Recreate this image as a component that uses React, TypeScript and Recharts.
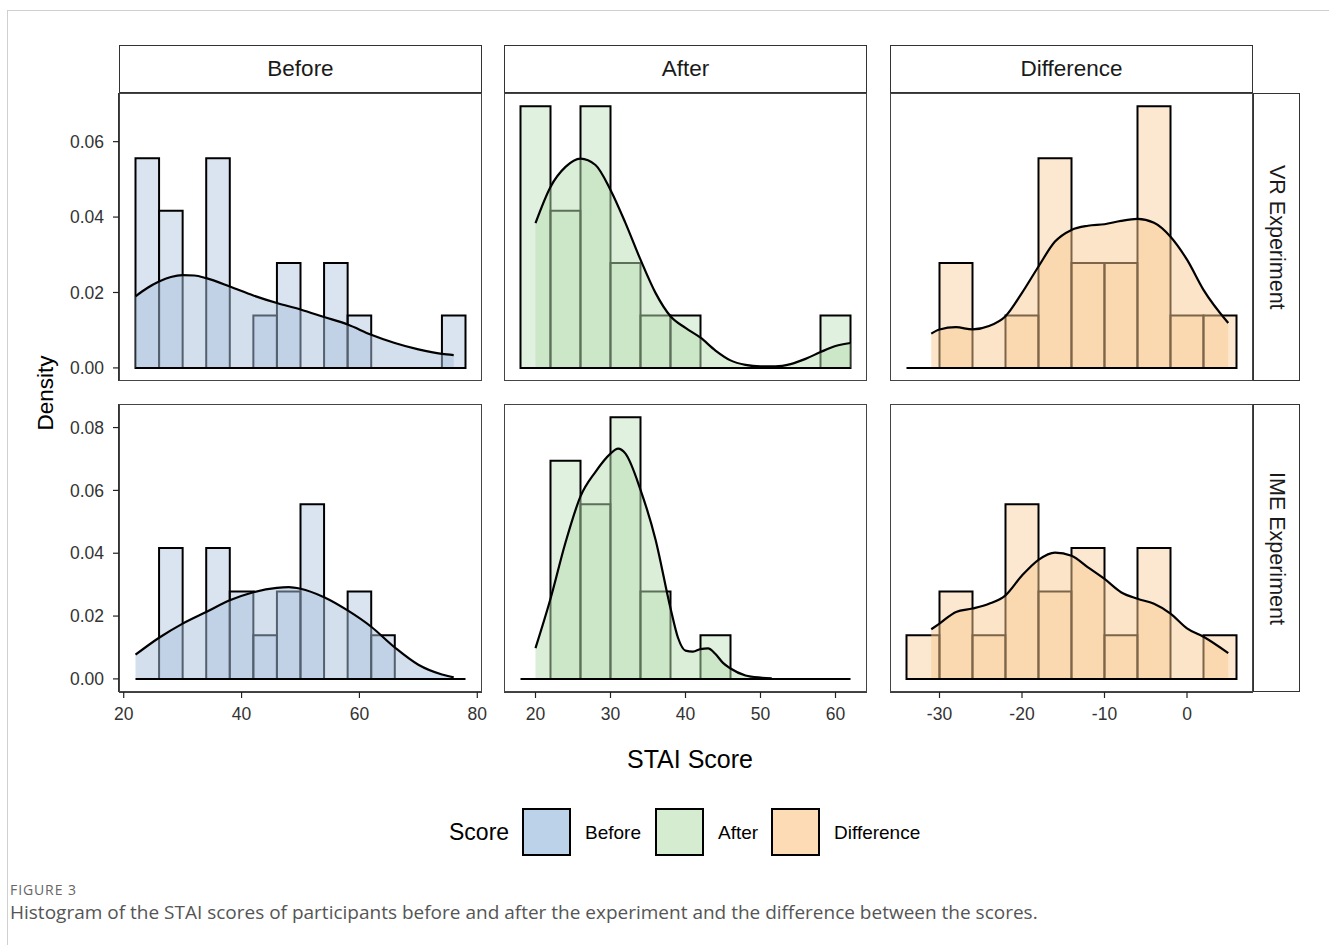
import React from 'react';
import { ComposedChart, Area, XAxis, YAxis, ReferenceArea, ReferenceLine } from 'recharts';

const FONT = '"Liberation Sans", Arial, Helvetica, sans-serif';

// ---------- data ----------
const scoreLabels = ['Before', 'After', 'Difference'];
const experimentLabels = ['VR Experiment', 'IME Experiment'];

// histogram bin starts (binwidth 4)
const beforeBinStarts = [22, 26, 30, 34, 38, 42, 46, 50, 54, 58, 62, 66, 70, 74];
const afterBinStarts = [18, 22, 26, 30, 34, 38, 42, 46, 50, 54, 58];
const diffBinStarts = [-34, -30, -26, -22, -18, -14, -10, -6, -2, 2];

const vrBeforeHist = [0.0556, 0.0417, 0, 0.0556, 0, 0.0139, 0.0278, 0, 0.0278, 0.0139, 0, 0, 0, 0.0139];
const imeBeforeHist = [0, 0.0417, 0, 0.0417, 0.0278, 0.0139, 0.0278, 0.0556, 0, 0.0278, 0.0139, 0, 0, 0];
const vrAfterHist = [0.0694, 0.0417, 0.0694, 0.0278, 0.0139, 0.0139, 0, 0, 0, 0, 0.0139];
const imeAfterHist = [0, 0.0694, 0.0556, 0.0833, 0.0278, 0, 0.0139, 0, 0, 0, 0];
const vrDiffHist = [0, 0.0278, 0, 0.0139, 0.0556, 0.0278, 0.0278, 0.0694, 0.0139, 0.0139];
const imeDiffHist = [0.0139, 0.0278, 0.0139, 0.0556, 0.0278, 0.0417, 0.0139, 0.0417, 0, 0.0139];

// density curves
const vrBeforeDensX = [22, 24, 26, 28, 30, 32, 34, 38, 42, 46, 50, 54, 58, 62, 66, 70, 74, 76];
const vrBeforeDensY = [0.0190, 0.0212, 0.0229, 0.0241, 0.0246, 0.0245, 0.0238, 0.0216, 0.0192, 0.0172, 0.0155, 0.0135, 0.0115, 0.0088, 0.0066, 0.0049, 0.0037, 0.0034];
const imeBeforeDensX = [22, 26, 30, 34, 38, 42, 46, 48, 50, 54, 58, 62, 66, 70, 74, 76];
const imeBeforeDensY = [0.0077, 0.0131, 0.0176, 0.0213, 0.0250, 0.0276, 0.0290, 0.0292, 0.0287, 0.0260, 0.0218, 0.0166, 0.0100, 0.0045, 0.0014, 0.0005];
const vrAfterDensX = [20, 22, 24, 26, 28, 30, 32, 34, 36, 38, 40, 42, 44, 46, 48, 50, 52, 54, 56, 58, 60, 62];
const vrAfterDensY = [0.0384, 0.0480, 0.0533, 0.0555, 0.0538, 0.0472, 0.0384, 0.0287, 0.0199, 0.0137, 0.0106, 0.0080, 0.0046, 0.0020, 0.0008, 0.0004, 0.0004, 0.0010, 0.0024, 0.0042, 0.0058, 0.0066];
const imeAfterDensX = [20, 22, 24, 26, 28, 30, 31, 32, 34, 36, 38, 39, 40, 41, 42, 43, 44, 45, 46, 48, 50, 51.5];
const imeAfterDensY = [0.0098, 0.0255, 0.0434, 0.0581, 0.0659, 0.0717, 0.0733, 0.0717, 0.0602, 0.0444, 0.0225, 0.0131, 0.0090, 0.0087, 0.0095, 0.0097, 0.0079, 0.0051, 0.0033, 0.0011, 0.0004, 0.0002];
const vrDiffDensX = [-31, -30, -28, -26, -24, -22, -20, -18, -16, -14, -12, -10, -8, -6, -4, -2, 0, 2, 5];
const vrDiffDensY = [0.0091, 0.0102, 0.0108, 0.0102, 0.0111, 0.0137, 0.0199, 0.0269, 0.0335, 0.0366, 0.0377, 0.0381, 0.0390, 0.0395, 0.0385, 0.0348, 0.0287, 0.0207, 0.0119];
const imeDiffDensX = [-31, -30, -28, -26, -24, -22, -20, -18, -16, -14, -12, -10, -8, -6, -4, -2, 0, 2, 5];
const imeDiffDensY = [0.0158, 0.0176, 0.0213, 0.0224, 0.0239, 0.0266, 0.0329, 0.0379, 0.0402, 0.0392, 0.0355, 0.0318, 0.0276, 0.0255, 0.0239, 0.0208, 0.0161, 0.0134, 0.0082];

const beforeXTicks = [20, 40, 60, 80];
const afterXTicks = [20, 30, 40, 50, 60];
const diffXTicks = [-30, -20, -10, 0];
const vrYTicks = [0, 0.02, 0.04, 0.06];
const imeYTicks = [0, 0.02, 0.04, 0.06, 0.08];

// ---------- styles / layout ----------
const BLUE = '#a7bfdb';
const GREEN = '#b8deb2';
const ORANGE = '#f7c98f';
const KEY_COLORS = ['#bcd2e8', '#d5ecd1', '#fddcb5'];

const COL_LEFT = [119, 504, 890];
const COL_W = 363;
const ROW_TOP = [93, 404];
const ROW_H = 288;
const STRIP_TOP = 45;
const STRIP_H = 48;
const RSTRIP_W = 47;
const RIGHT_PAD = 24;

const X_DOMAINS: [number, number][] = [[19.2, 80.8], [15.8, 64.2], [-36, 8]];
const Y_DOMAINS: [number, number][] = [[-0.00347, 0.0729], [-0.00417, 0.0875]];

type PanelProps = {
  col: number;
  row: number;
  binStarts: number[];
  hist: number[];
  densX: number[];
  densY: number[];
  color: string;
  xTicks: number[];
  yTicks: number[];
};

function Panel({ col, row, binStarts, hist, densX, densY, color, xTicks, yTicks }: PanelProps) {
  const showY = col === 0;
  const showX = row === 1;
  const yW = showY ? 80 : 0;
  const xH = showX ? 44 : 0;
  const left = COL_LEFT[col];
  const top = ROW_TOP[row];
  const data = densX.map((x, i) => ({ x, d: densY[i] }));
  const binW = binStarts[1] - binStarts[0];
  const lastEdge = binStarts[binStarts.length - 1] + binW;
  const tickStyle = { fill: '#333', fontSize: 17.5, fontFamily: FONT };
  const W = COL_W + yW + RIGHT_PAD;
  return (
    <div style={{ position: 'absolute', left: left - yW, top, width: W, height: ROW_H + xH }}>
      <ComposedChart width={W} height={ROW_H + xH} data={data} margin={{ top: 0, right: RIGHT_PAD, bottom: 0, left: 0 }}>
        <XAxis
          dataKey="x"
          type="number"
          domain={X_DOMAINS[col]}
          ticks={xTicks}
          allowDataOverflow
          hide={!showX}
          height={xH}
          tick={tickStyle}
          tickSize={6}
          tickMargin={10}
          axisLine={{ stroke: '#000', strokeWidth: 1.6 }}
          tickLine={{ stroke: '#222', strokeWidth: 1.2 }}
          interval={0}
        />
        <YAxis
          type="number"
          domain={Y_DOMAINS[row]}
          ticks={yTicks}
          allowDataOverflow
          hide={!showY}
          width={yW}
          tick={tickStyle}
          tickSize={6}
          tickMargin={9}
          tickFormatter={(v: number) => v.toFixed(2)}
          axisLine={{ stroke: '#000', strokeWidth: 1.6 }}
          tickLine={{ stroke: '#222', strokeWidth: 1.2 }}
          interval={0}
        />
        <ReferenceLine
          segment={[{ x: binStarts[0], y: 0 }, { x: lastEdge, y: 0 }]}
          stroke="#000"
          strokeWidth={2}
          ifOverflow="visible"
        />
        {binStarts.map((b, i) =>
          hist[i] > 0 ? (
            <ReferenceArea
              key={`bin-${i}`}
              x1={b}
              x2={b + binW}
              y1={0}
              y2={hist[i]}
              fill={color}
              fillOpacity={0.42}
              stroke="#000"
              strokeWidth={2}
              strokeOpacity={1}
              ifOverflow="visible"
            />
          ) : null
        )}
        <Area
          dataKey="d"
          type="monotone"
          baseValue={0}
          fill={color}
          fillOpacity={0.5}
          stroke="#000"
          strokeWidth={2.2}
          dot={false}
          activeDot={false}
          isAnimationActive={false}
        />
      </ComposedChart>
      <div
        style={{
          position: 'absolute',
          left: yW,
          top: 0,
          width: COL_W,
          height: ROW_H,
          border: '1px solid #444',
          boxSizing: 'border-box',
          pointerEvents: 'none',
        }}
      />
    </div>
  );
}

const panels: PanelProps[] = [
  { col: 0, row: 0, binStarts: beforeBinStarts, hist: vrBeforeHist, densX: vrBeforeDensX, densY: vrBeforeDensY, color: BLUE, xTicks: beforeXTicks, yTicks: vrYTicks },
  { col: 1, row: 0, binStarts: afterBinStarts, hist: vrAfterHist, densX: vrAfterDensX, densY: vrAfterDensY, color: GREEN, xTicks: afterXTicks, yTicks: vrYTicks },
  { col: 2, row: 0, binStarts: diffBinStarts, hist: vrDiffHist, densX: vrDiffDensX, densY: vrDiffDensY, color: ORANGE, xTicks: diffXTicks, yTicks: vrYTicks },
  { col: 0, row: 1, binStarts: beforeBinStarts, hist: imeBeforeHist, densX: imeBeforeDensX, densY: imeBeforeDensY, color: BLUE, xTicks: beforeXTicks, yTicks: imeYTicks },
  { col: 1, row: 1, binStarts: afterBinStarts, hist: imeAfterHist, densX: imeAfterDensX, densY: imeAfterDensY, color: GREEN, xTicks: afterXTicks, yTicks: imeYTicks },
  { col: 2, row: 1, binStarts: diffBinStarts, hist: imeDiffHist, densX: imeDiffDensX, densY: imeDiffDensY, color: ORANGE, xTicks: diffXTicks, yTicks: imeYTicks },
];

export default function App() {
  return (
    <div style={{ position: 'absolute', left: 0, top: 0, width: 1329, height: 945, background: '#fff', fontFamily: FONT, overflow: 'hidden' }}>
      {/* figure frame */}
      <div style={{ position: 'absolute', left: 7, top: 10, width: 1340, height: 960, borderLeft: '1px solid #d0d0d0', borderTop: '1px solid #d0d0d0' }} />

      {/* column strips */}
      {scoreLabels.map((s, i) => (
        <div
          key={s}
          style={{
            position: 'absolute',
            left: COL_LEFT[i],
            top: STRIP_TOP,
            width: COL_W,
            height: STRIP_H,
            border: '1px solid #333',
            boxSizing: 'border-box',
            display: 'flex',
            alignItems: 'center',
            justifyContent: 'center',
            fontSize: 22.5,
            color: '#1a1a1a',
          }}
        >
          {s}
        </div>
      ))}

      {/* row strips */}
      {experimentLabels.map((s, i) => (
        <div
          key={s}
          style={{
            position: 'absolute',
            left: COL_LEFT[2] + COL_W,
            top: ROW_TOP[i],
            width: RSTRIP_W,
            height: ROW_H,
            border: '1px solid #333',
            boxSizing: 'border-box',
            display: 'flex',
            alignItems: 'center',
            justifyContent: 'center',
            fontSize: 21.5,
            color: '#1a1a1a',
            writingMode: 'vertical-rl',
          }}
        >
          {s}
        </div>
      ))}

      {panels.map((p) => (
        <Panel key={`${p.col}-${p.row}`} {...p} />
      ))}

      {/* axis titles */}
      <div style={{ position: 'absolute', left: 46, top: 393, transform: 'translate(-50%, -50%) rotate(-90deg)', fontSize: 22.5, lineHeight: 1, color: '#000', whiteSpace: 'nowrap' }}>
        Density
      </div>
      <div style={{ position: 'absolute', left: 690, top: 759, transform: 'translate(-50%, -50%)', fontSize: 25, lineHeight: 1, color: '#000', whiteSpace: 'nowrap' }}>
        STAI Score
      </div>

      {/* legend */}
      <div style={{ position: 'absolute', left: 449, top: 832, transform: 'translateY(-50%)', fontSize: 23, lineHeight: 1, color: '#000' }}>Score</div>
      {scoreLabels.map((s, i) => {
        const keyLeft = [522, 655, 771][i];
        return (
          <React.Fragment key={`lg-${s}`}>
            <div
              style={{
                position: 'absolute',
                left: keyLeft,
                top: 808,
                width: 49,
                height: 48,
                background: KEY_COLORS[i],
                border: '2px solid #000',
                boxSizing: 'border-box',
              }}
            />
            <div style={{ position: 'absolute', left: keyLeft + 63, top: 832, transform: 'translateY(-50%)', fontSize: 19, lineHeight: 1, color: '#000', whiteSpace: 'nowrap' }}>{s}</div>
          </React.Fragment>
        );
      })}

      {/* caption */}
      <div style={{ position: 'absolute', left: 10, top: 890, transform: 'translateY(-50%)', fontFamily: '"Open Sans", sans-serif', fontSize: 14, lineHeight: 1, letterSpacing: 0.9, color: '#666' }}>FIGURE 3</div>
      <div style={{ position: 'absolute', left: 10, top: 912, transform: 'translateY(-50%)', fontFamily: '"Open Sans", sans-serif', fontSize: 19, lineHeight: 1, color: '#555', whiteSpace: 'nowrap' }}>
        Histogram of the STAI scores of participants before and after the experiment and the difference between the scores.
      </div>
    </div>
  );
}
